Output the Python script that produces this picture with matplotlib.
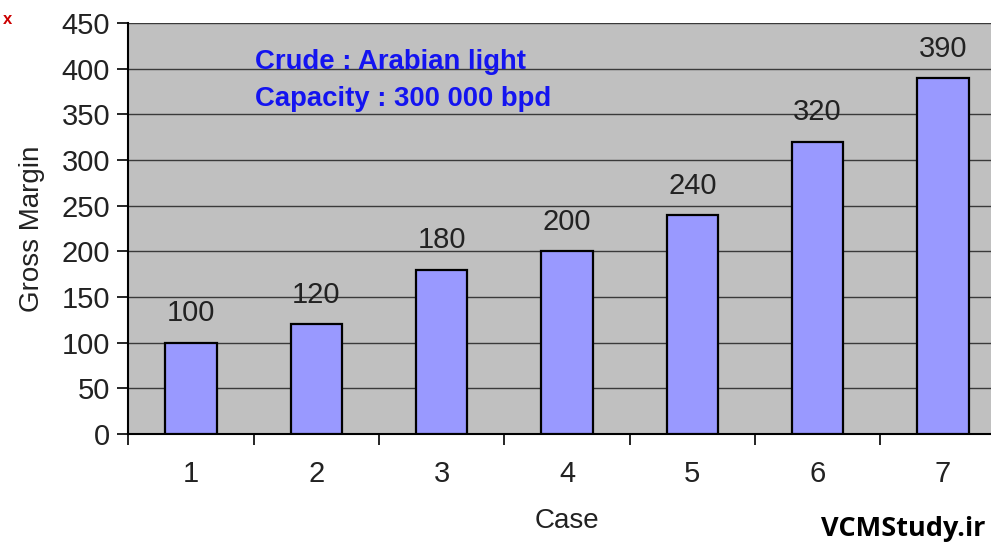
import matplotlib
matplotlib.use("Agg")
import matplotlib.pyplot as plt
import numpy as np

cases = ["1", "2", "3", "4", "5", "6", "7"]
gross_margin = [100, 120, 180, 200, 240, 320, 390]
y_ticks = [0, 50, 100, 150, 200, 250, 300, 350, 400, 450]

plt.rcParams['font.family'] = ['Liberation Sans', 'DejaVu Sans']

fig = plt.figure(figsize=(9.91, 5.43), dpi=100)
ax = fig.add_axes([128.3/991, 1-434/543, (1005.7-128.3)/991, (434-23)/543])
ax.set_facecolor('#C0C0C0')

x = np.arange(len(cases))
ax.bar(x, gross_margin, width=0.41, color='#9999FF', edgecolor='black', linewidth=1.6, zorder=3)
for xi, v in zip(x, gross_margin):
    ax.annotate(str(v), (xi, v), xytext=(0, 11), textcoords='offset points',
                ha='center', va='bottom', fontsize=21, color='#222222')

ax.set_xlim(-0.5, len(cases) - 0.5)
ax.set_ylim(0, 450)
ax.set_yticks(y_ticks)
ax.set_yticklabels([str(t) for t in y_ticks], fontsize=21, color='#222222')
ax.yaxis.grid(True, color='#3a3a3a', linewidth=1.0, zorder=0)
ax.set_axisbelow(True)

ax.set_xticks(x)
ax.set_xticklabels(cases, fontsize=21, color='#222222')
ax.tick_params(axis='x', which='major', length=0, pad=19)
ax.set_xticks(np.arange(-0.5, len(cases), 1.0), minor=True)
ax.tick_params(axis='x', which='minor', length=8, width=1.2, direction='out')
ax.tick_params(axis='y', length=8, width=1.2, direction='out', pad=5)

for s in ['top', 'right']:
    ax.spines[s].set_visible(False)
ax.spines['left'].set_linewidth(1.5)
ax.spines['bottom'].set_linewidth(1.5)

ax.set_ylabel('Gross Margin', fontsize=20, color='#222222', labelpad=12)
ax.set_xlabel('Case', fontsize=20, color='#222222', labelpad=14)

fig.text(255/991, 1-62/543, 'Crude : Arabian light', fontsize=19.8, fontweight='bold',
         color='#1414F0', ha='left', va='center')
fig.text(255/991, 1-99/543, 'Capacity : 300 000 bpd', fontsize=19.8, fontweight='bold',
         color='#1414F0', ha='left', va='center')
fig.text(3/991, 1-19/543, 'x', fontsize=12, fontweight='bold', color='#CC0000',
         ha='left', va='center')
fig.text(985/991, 1-529/543, 'VCMStudy.ir', fontsize=19.5, fontweight='bold',
         color='black', ha='right', va='center', family=['Open Sans', 'DejaVu Sans'])

fig.savefig('out.png', dpi=100)
